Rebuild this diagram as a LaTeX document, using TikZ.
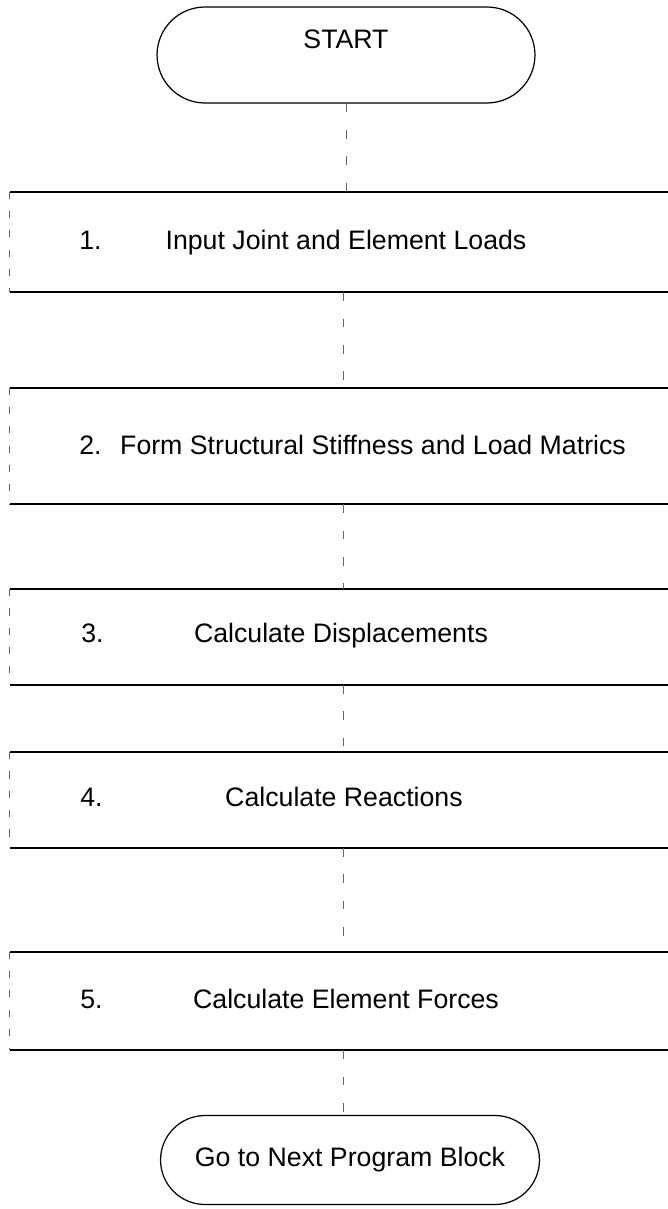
\documentclass[tikz,border=0pt]{standalone}
\usepackage{fontspec}
\setmainfont{Liberation Sans}
\usetikzlibrary{shapes.misc}

\begin{document}
\begin{tikzpicture}[x=0.02cm, y=-0.02cm,
    font=\fontsize{15.2}{18}\selectfont,
    term/.style={rounded rectangle, draw, line width=0.7pt, minimum width=#1, inner sep=0pt},
    stage/.style={minimum width=13.32cm, minimum height=#1, inner sep=0pt},
    lbl/.style={inner sep=0pt, text height=0.4cm, text depth=0.1cm},
    rule/.style={line width=1.1pt},
    side/.style={draw=black!60, line width=0.4pt, dash pattern=on 4pt off 7pt},
    link/.style={draw=black!60, line width=0.4pt, dash pattern=on 5pt off 10pt}]
    \useasboundingbox (0,0) rectangle (668,1209);

    % terminals
    \node[term=7.56cm, minimum height=1.92cm, text height=0.38cm, text depth=0.62cm] (start) at (346,55) {START};
    \node[term=7.58cm, minimum height=1.78cm] (finish) at (350,1160) {Go to Next Program Block};

    % program steps
    \node[stage=2cm]    (s1) at (343,242) {};
    \node[stage=2.32cm] (s2) at (343,446) {};
    \node[stage=1.9cm]  (s3) at (343,637) {};
    \node[stage=1.9cm]  (s4) at (343,800) {};
    \node[stage=1.96cm] (s5) at (343,1001) {};

    \node[lbl] (t1) at (346,242) {Input Joint and Element Loads};
    \node[lbl] (t2) at (373,447) {Form Structural Stiffness and Load Matrics};
    \node[lbl] (t3) at (341,635) {Calculate Displacements};
    \node[lbl] (t4) at (344,799) {Calculate Reactions};
    \node[lbl] (t5) at (346,1001) {Calculate Element Forces};

    \node[lbl, anchor=west] (k1) at (79,242) {1.};
    \node[lbl, anchor=west] (k2) at (79,447) {2.};
    \node[lbl, anchor=west] (k3) at (81,635) {3.};
    \node[lbl, anchor=west] (k4) at (80,799) {4.};
    \node[lbl, anchor=west] (k5) at (80,1001) {5.};

    \foreach \s in {s1,s2,s3,s4,s5} {
        \draw[rule] (\s.north west) -- (\s.north east);
        \draw[rule] (\s.south west) -- (\s.south east);
        \draw[side] (\s.north west) -- (\s.south west);
    }

    % flow
    \draw[link] (start.south) -- (start.south |- s1.north);
    \draw[link] (s1.south) -- (s2.north);
    \draw[link] (s2.south) -- (s3.north);
    \draw[link] (s3.south) -- (s4.north);
    \draw[link] (s4.south) -- (s5.north);
    \draw[link] (s5.south) -- (s5.south |- finish.north);
\end{tikzpicture}
\end{document}
